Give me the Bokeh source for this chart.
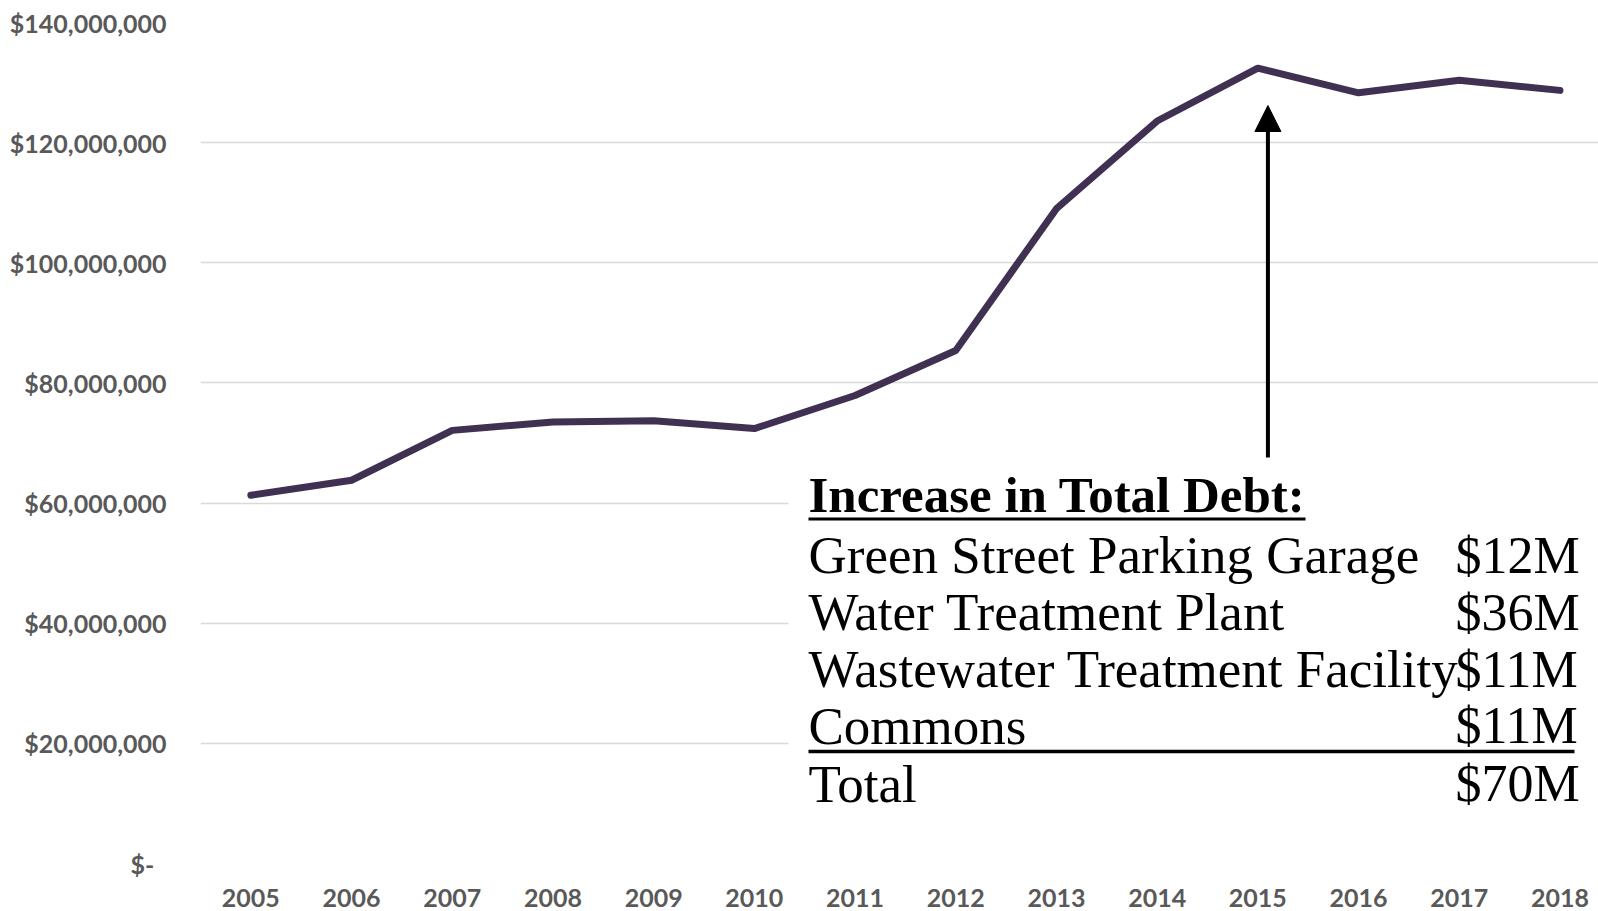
from bokeh.plotting import figure
from bokeh.models import Range1d, FixedTicker, Arrow, NormalHead
from bokeh.core.properties import value
from bokeh.embed import file_html
from bokeh.resources import INLINE

# ---- data ----
years = [2005, 2006, 2007, 2008, 2009, 2010, 2011, 2012, 2013, 2014, 2015, 2016, 2017, 2018]
total_debt = [61.3e6, 63.8e6, 72.1e6, 73.5e6, 73.7e6, 72.4e6, 77.9e6, 85.4e6,
              109.0e6, 123.6e6, 132.4e6, 128.3e6, 130.4e6, 128.7e6]
y_ticks = [0, 20000000, 40000000, 60000000, 80000000, 100000000, 120000000, 140000000]
y_tick_labels = ["$-\u00a0\u00a0", "$20,000,000", "$40,000,000", "$60,000,000", "$80,000,000",
                 "$100,000,000", "$120,000,000", "$140,000,000"]
annot_title = "Increase in Total Debt:"
projects = ["Green Street Parking Garage", "Water Treatment Plant",
            "Wastewater Treatment Facility", "Commons"]
project_amounts = ["$12M", "$36M", "$11M", "$11M"]
total_label = "Total"
total_amount = "$70M"
arrow_year = 2015.1

# ---- layout helpers (page pixels -> data units) ----
W, H = 1598, 911
LEFT, TOP, BOTTOM = 200, 22, 48
FRAME_W = W - LEFT
FRAME_H = H - TOP - BOTTOM
X_START = 2004.5
PX_PER_YEAR = 100.7
X_END = X_START + FRAME_W / PX_PER_YEAR
Y_MAX = 140e6
PAGE_Y0 = TOP + FRAME_H  # page y of value 0


def px2x(px):
    return X_START + (px - LEFT) / PX_PER_YEAR


def py2y(py):
    return (PAGE_Y0 - py) * Y_MAX / FRAME_H


def base(py, fs, k):
    # compensate renderer's alphabetic-baseline offset
    return py2y(py - k * fs)


p = figure(width=W, height=H, output_backend="svg", toolbar_location=None,
           x_range=Range1d(X_START, X_END), y_range=Range1d(0, Y_MAX),
           min_border_left=LEFT, min_border_top=TOP, min_border_bottom=BOTTOM,
           min_border_right=0, outline_line_color=None, background_fill_color="white",
           border_fill_color="white")

# axes
p.xaxis.ticker = FixedTicker(ticks=years)
p.xaxis.major_label_overrides = {y: str(y) for y in years}
p.yaxis.ticker = FixedTicker(ticks=y_ticks)
p.yaxis.major_label_overrides = dict(zip(y_ticks, y_tick_labels))
for ax in (p.xaxis, p.yaxis):
    ax.major_tick_line_color = None
    ax.minor_tick_line_color = None
    ax.axis_line_color = None
    ax.major_label_text_font = "Lato"
    ax.major_label_text_font_style = "bold"
    ax.major_label_text_font_size = "25px"
    ax.major_label_text_color = "#595959"
p.xaxis.major_label_standoff = 19
p.yaxis.major_label_standoff = 28
p.xgrid.grid_line_color = None
p.ygrid.ticker = FixedTicker(ticks=y_ticks)
p.ygrid.grid_line_color = "#D9D9D9"
p.ygrid.grid_line_width = 1.5

# data line
p.line(years, total_debt, line_color="#403152", line_width=7,
       line_join="round", line_cap="round")

# white box behind the annotation table
p.quad(left=[px2x(788)], right=[X_END + 1], top=[py2y(468)], bottom=[py2y(830)],
       fill_color="white", line_color=None)

# arrow
p.add_layout(Arrow(end=NormalHead(size=26, fill_color="black", line_color="black"),
                   x_start=arrow_year, y_start=py2y(457), x_end=arrow_year, y_end=py2y(105),
                   line_width=4, line_color="black"))

serif = value("Liberation Serif")
text_x = px2x(808)
amount_x = px2x(1455)
FS_T, FS, FS_A = 51, 53, 52
K_T, K = 0.37, 0.30

# title + underline
p.text(x=[text_x], y=[base(513, FS_T, K_T)], text=[annot_title], text_font=serif,
       text_font_size=f"{FS_T}px", text_font_style="bold", text_baseline="alphabetic",
       text_align="left", text_color="black")
p.segment(x0=[text_x], y0=[py2y(518.5)], x1=[px2x(1305)], y1=[py2y(518.5)],
          line_color="black", line_width=3)

row_pages = [570.5, 627.5, 684.5, 741.0]
p.text(x=[text_x] * len(projects), y=[base(v, FS, K) for v in row_pages], text=projects,
       text_font=serif, text_font_size=f"{FS}px", text_baseline="alphabetic",
       text_align="left", text_color="black")
p.text(x=[amount_x] * len(project_amounts), y=[base(v, FS, K) for v in row_pages],
       text=project_amounts, text_font=serif, text_font_size=f"{FS_A}px",
       text_baseline="alphabetic", text_align="left", text_color="black")

# total separator
p.segment(x0=[text_x], y0=[py2y(751)], x1=[px2x(1574)], y1=[py2y(751)],
          line_color="black", line_width=3.5)
p.text(x=[text_x], y=[base(799, FS, K)], text=[total_label],
       text_font=serif, text_font_size=f"{FS}px", text_baseline="alphabetic",
       text_align="left", text_color="black")
p.text(x=[amount_x], y=[base(799, FS, K)], text=[total_amount],
       text_font=serif, text_font_size=f"{FS_A}px", text_baseline="alphabetic",
       text_align="left", text_color="black")

open("out.html", "w").write(file_html(p, INLINE))
